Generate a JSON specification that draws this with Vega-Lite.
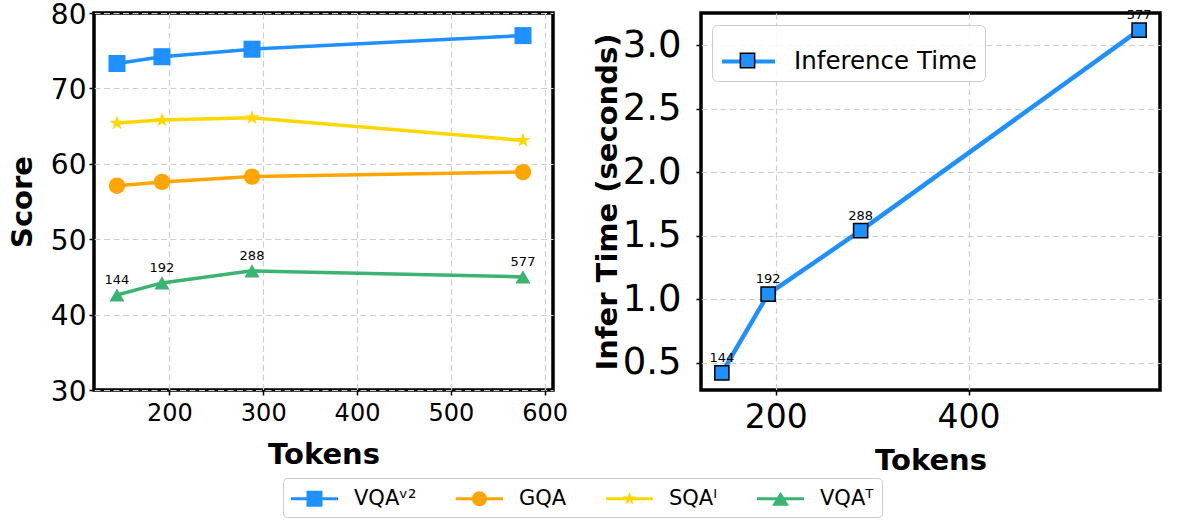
{
  "$schema": "https://vega.github.io/schema/vega-lite/v6.json",
  "autosize": {"type": "none"},
  "padding": {"left": 94, "top": 13, "right": 1101, "bottom": 509},
  "background": "white",
  "bounds": "flush",
  "spacing": 148,
  "resolve": {
    "scale": {"color": "independent", "fill": "independent", "stroke": "independent", "shape": "independent", "size": "independent"},
    "legend": {"color": "independent", "fill": "independent", "stroke": "independent", "shape": "independent", "size": "independent"}
  },
  "datasets": {
    "scores": [
      {"tokens": 144, "series": "VQA\u1d5b\u00b2", "score": 73.3},
      {"tokens": 192, "series": "VQA\u1d5b\u00b2", "score": 74.2},
      {"tokens": 288, "series": "VQA\u1d5b\u00b2", "score": 75.2},
      {"tokens": 577, "series": "VQA\u1d5b\u00b2", "score": 77.0},
      {"tokens": 144, "series": "GQA", "score": 57.1},
      {"tokens": 192, "series": "GQA", "score": 57.6},
      {"tokens": 288, "series": "GQA", "score": 58.3},
      {"tokens": 577, "series": "GQA", "score": 58.9},
      {"tokens": 144, "series": "SQA\u1d35", "score": 65.4},
      {"tokens": 192, "series": "SQA\u1d35", "score": 65.8},
      {"tokens": 288, "series": "SQA\u1d35", "score": 66.1},
      {"tokens": 577, "series": "SQA\u1d35", "score": 63.1},
      {"tokens": 144, "series": "VQA\u1d40", "score": 42.6},
      {"tokens": 192, "series": "VQA\u1d40", "score": 44.2},
      {"tokens": 288, "series": "VQA\u1d40", "score": 45.8},
      {"tokens": 577, "series": "VQA\u1d40", "score": 45.0}
    ],
    "infer": [
      {"tokens": 144, "time": 0.42, "s1": "Inference Time", "s2": "Inference Time"},
      {"tokens": 192, "time": 1.04, "s1": "Inference Time", "s2": "Inference Time"},
      {"tokens": 288, "time": 1.54, "s1": "Inference Time", "s2": "Inference Time"},
      {"tokens": 577, "time": 3.12, "s1": "Inference Time", "s2": "Inference Time"}
    ]
  },
  "hconcat": [
    {
      "width": 459,
      "height": 377,
      "data": {"name": "scores"},
      "resolve": {
        "scale": {"shape": "independent", "fill": "independent", "stroke": "independent"},
        "legend": {"shape": "independent", "fill": "independent", "stroke": "independent"}
      },
      "encoding": {
        "x": {
          "field": "tokens", "type": "quantitative",
          "scale": {"domain": [119.5, 609], "nice": false, "zero": false},
          "axis": {"values": [200, 300, 400, 500, 600], "title": "Tokens", "labelFontSize": 24, "labelPadding": 6, "titlePadding": 15}
        },
        "y": {
          "field": "score", "type": "quantitative",
          "scale": {"domain": [30, 80], "nice": false, "zero": false},
          "axis": {"values": [30, 40, 50, 60, 70, 80], "title": "Score", "labelFontSize": 28, "labelOffset": 2, "labelPadding": 3, "titlePadding": 13}
        }
      },
      "layer": [
        {
          "transform": [{"filter": "datum.tokens < 0"}],
          "mark": {"type": "point", "filled": true, "opacity": 1},
          "encoding": {
            "fill": {
              "field": "series", "type": "nominal",
              "scale": {"domain": ["VQA\u1d5b\u00b2", "GQA", "SQA\u1d35", "VQA\u1d40"], "range": ["#1E90FF", "#FFA500", "#FFD700", "#3CB371"]},
              "legend": {
                "orient": "none", "legendX": 189, "legendY": 465,
                "direction": "horizontal", "columns": 4, "title": null,
                "symbolSize": 625, "symbolStrokeWidth": 0, "symbolOpacity": 1,
                "labelFontSize": 21, "labelFont": "DejaVu Sans", "labelColor": "black", "labelLimit": 300,
                "labelOffset": 38, "columnPadding": 39, "padding": 8,
                "strokeColor": "#cccccc", "cornerRadius": 4, "fillColor": "white"
              }
            },
            "shape": {
              "field": "series", "type": "nominal",
              "scale": {
                "domain": ["VQA\u1d5b\u00b2", "GQA", "SQA\u1d35", "VQA\u1d40"],
                "range": [
                  "M-1,-0.12H2.76V0.12H-1ZM0.24,-0.64H1.52V0.64H0.24Z",
                  "M-1,-0.12H2.76V0.12H-1ZM1.48,0A0.6,0.6,0,1,1,0.28,0A0.6,0.6,0,1,1,1.48,0Z",
                  "M-1,-0.12H2.76V0.12H-1ZM0.88,-0.56L1.0117,-0.1812L1.4126,-0.1731L1.093,0.0692L1.2092,0.4531L0.88,0.224L0.5508,0.4531L0.667,0.0692L0.3474,-0.1731L0.7483,-0.1812Z",
                  "M-1,-0.12H2.76V0.12H-1ZM0.88,-0.56L1.56,0.56L0.2,0.56Z"
                ]
              }
            }
          }
        },
        {
          "mark": {"type": "line", "strokeWidth": 3.5},
          "encoding": {
            "color": {
              "field": "series", "type": "nominal",
              "scale": {"domain": ["VQA\u1d5b\u00b2", "GQA", "SQA\u1d35", "VQA\u1d40"], "range": ["#1E90FF", "#FFA500", "#FFD700", "#3CB371"]},
              "legend": null
            }
          }
        },
        {
          "mark": {"type": "point", "filled": true, "opacity": 1},
          "encoding": {
            "color": {
              "field": "series", "type": "nominal",
              "scale": {"domain": ["VQA\u1d5b\u00b2", "GQA", "SQA\u1d35", "VQA\u1d40"], "range": ["#1E90FF", "#FFA500", "#FFD700", "#3CB371"]},
              "legend": null
            },
            "shape": {
              "field": "series", "type": "nominal",
              "scale": {"domain": ["VQA\u1d5b\u00b2", "GQA", "SQA\u1d35", "VQA\u1d40"], "range": ["square", "circle", "M0,-1L0.2234,-0.3074L0.9511,-0.309L0.3614,0.1174L0.5878,0.809L0,0.38L-0.5878,0.809L-0.3614,0.1174L-0.9511,-0.309L-0.2234,-0.3074Z", "triangle-up"]},
              "legend": null
            },
            "size": {
              "field": "series", "type": "nominal",
              "scale": {"domain": ["VQA\u1d5b\u00b2", "GQA", "SQA\u1d35", "VQA\u1d40"], "range": [290, 230, 250, 380]},
              "legend": null
            }
          }
        },
        {
          "transform": [{"filter": "datum.series === 'VQA\u1d40'"}],
          "mark": {"type": "text", "dy": -15, "fontSize": 13, "font": "DejaVu Sans", "color": "black"},
          "encoding": {"text": {"field": "tokens", "type": "quantitative"}}
        }
      ]
    },
    {
      "width": 459,
      "height": 377,
      "data": {"name": "infer"},
      "encoding": {
        "x": {
          "field": "tokens", "type": "quantitative",
          "scale": {"domain": [122.35, 598.65], "nice": false, "zero": false},
          "axis": {"values": [200, 400, 600], "title": "Tokens", "labelFontSize": 33, "labelPadding": 6, "titlePadding": 12}
        },
        "y": {
          "field": "time", "type": "quantitative",
          "scale": {"domain": [0.285, 3.255], "nice": false, "zero": false},
          "axis": {"values": [0.5, 1.0, 1.5, 2.0, 2.5, 3.0], "format": ".1f", "title": "Infer Time (seconds)", "labelFontSize": 37, "labelPadding": 15, "titlePadding": 0}
        }
      },
      "layer": [
        {
          "mark": {"type": "line", "strokeWidth": 4.5},
          "encoding": {
            "color": {
              "field": "s1", "type": "nominal",
              "scale": {"range": ["#1E90FF"]},
              "legend": {
                "orient": "none", "legendX": 11, "legendY": 12, "title": null,
                "symbolType": "M-1,0L1,0",
                "symbolSize": 2809, "symbolStrokeWidth": 4, "symbolOpacity": 1,
                "labelFontSize": 24.5, "labelFont": "DejaVu Sans", "labelColor": "black", "labelLimit": 300,
                "labelOffset": 17, "padding": 8,
                "strokeColor": "#cccccc", "cornerRadius": 5, "fillColor": "rgba(255,255,255,0.85)"
              }
            }
          }
        },
        {
          "mark": {"type": "point", "filled": true, "stroke": "black", "strokeWidth": 1.5, "opacity": 1, "shape": "square", "size": 200},
          "encoding": {
            "fill": {
              "field": "s2", "type": "nominal",
              "scale": {"range": ["#1E90FF"]},
              "legend": {
                "orient": "none", "legendX": 11, "legendY": 12, "title": null,
                "symbolType": "M-0.27,-0.27L0.27,-0.27L0.27,0.27L-0.27,0.27Z",
                "symbolSize": 2809, "symbolStrokeWidth": 1.5, "symbolStrokeColor": "black", "symbolOpacity": 1,
                "labelFontSize": 24.5, "labelFont": "DejaVu Sans", "labelOpacity": 0, "labelLimit": 300,
                "labelOffset": 17, "padding": 8
              }
            }
          }
        },
        {
          "mark": {"type": "text", "dy": -15, "fontSize": 13, "font": "DejaVu Sans", "color": "black"},
          "encoding": {"text": {"field": "tokens", "type": "quantitative"}}
        }
      ]
    }
  ],
  "config": {
    "font": "DejaVu Sans",
    "view": {"stroke": "black", "strokeWidth": 3.5},
    "axis": {
      "domain": false,
      "grid": true, "gridColor": "#cfcfcf", "gridDash": [6, 3.5], "gridWidth": 1.2,
      "ticks": true, "tickColor": "black", "tickWidth": 1.5, "tickSize": 5,
      "labelColor": "black", "labelFont": "DejaVu Sans", "labelFlush": false, "labelOverlap": false,
      "titleFont": "DejaVu Sans", "titleFontWeight": "bold", "titleColor": "black", "titleFontSize": 29
    }
  }
}
